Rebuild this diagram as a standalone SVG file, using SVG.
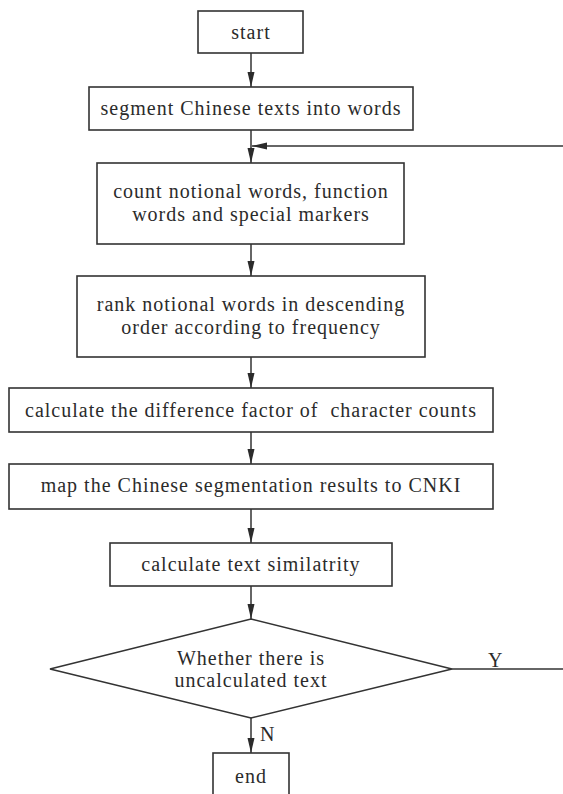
<svg xmlns="http://www.w3.org/2000/svg" width="563" height="794" viewBox="0 0 563 794">
  <style>
    .box { fill: #ffffff; stroke: #333333; stroke-width: 1.6; }
    .line { fill: none; stroke: #333333; stroke-width: 1.5; }
    .lbl { font-family: "Liberation Serif", "Times New Roman", serif; font-size: 20px; letter-spacing: 1px; fill: #2b2b2b; text-anchor: middle; }
    .tag { font-family: "Liberation Serif", "Times New Roman", serif; font-size: 20px; fill: #2b2b2b; }
  </style>
  <defs>
    <marker id="arrow" markerUnits="userSpaceOnUse" markerWidth="15" markerHeight="8" refX="15" refY="3.5" orient="auto">
      <path d="M0,0 L15,3.5 L0,7 Z" fill="#2b2b2b"/>
    </marker>
  </defs>
  <rect width="563" height="794" fill="#ffffff"/>

  <g id="connectors">
    <line class="line" x1="251" y1="53" x2="251" y2="87" marker-end="url(#arrow)"/>
    <line class="line" x1="251" y1="130" x2="251" y2="163" marker-end="url(#arrow)"/>
    <line class="line" x1="563" y1="146" x2="252" y2="146" marker-end="url(#arrow)"/>
    <line class="line" x1="251" y1="244" x2="251" y2="276" marker-end="url(#arrow)"/>
    <line class="line" x1="251" y1="357" x2="251" y2="388" marker-end="url(#arrow)"/>
    <line class="line" x1="251" y1="432" x2="251" y2="464" marker-end="url(#arrow)"/>
    <line class="line" x1="251" y1="509" x2="251" y2="543" marker-end="url(#arrow)"/>
    <line class="line" x1="251" y1="586" x2="251" y2="619" marker-end="url(#arrow)"/>
    <line class="line" x1="251" y1="718" x2="251" y2="753" marker-end="url(#arrow)"/>
    <line class="line" x1="452" y1="669" x2="563" y2="669"/>
    <text class="tag" x="488" y="667">Y</text>
    <text class="tag" x="260" y="741">N</text>
  </g>

  <g id="start">
    <rect class="box" x="198" y="11" width="105" height="42"/>
    <text class="lbl" x="251" y="39">start</text>
  </g>

  <g id="segment">
    <rect class="box" x="89" y="87" width="324" height="43"/>
    <text class="lbl" x="251" y="115">segment Chinese texts into words</text>
  </g>

  <g id="count">
    <rect class="box" x="97" y="163" width="307" height="81"/>
    <text class="lbl" x="251" y="198">count notional words, function</text>
    <text class="lbl" x="251" y="221">words and special markers</text>
  </g>

  <g id="rank">
    <rect class="box" x="77" y="276" width="348" height="81"/>
    <text class="lbl" x="251" y="311">rank notional words in descending</text>
    <text class="lbl" x="251" y="334">order according to frequency</text>
  </g>

  <g id="difference">
    <rect class="box" x="9" y="388" width="484" height="44"/>
    <text class="lbl" x="251" y="417" xml:space="preserve">calculate the difference factor of  character counts</text>
  </g>

  <g id="map">
    <rect class="box" x="9" y="464" width="484" height="45"/>
    <text class="lbl" x="251" y="492">map the Chinese segmentation results to CNKI</text>
  </g>

  <g id="similarity">
    <rect class="box" x="110" y="543" width="282" height="43"/>
    <text class="lbl" x="251" y="571">calculate text similatrity</text>
  </g>

  <g id="decision">
    <polygon class="box" points="251,619 452,669 251,718 50,669"/>
    <text class="lbl" x="251" y="665">Whether there is</text>
    <text class="lbl" x="251" y="687">uncalculated text</text>
  </g>

  <g id="end">
    <rect class="box" x="213" y="753" width="76" height="50"/>
    <text class="lbl" x="251" y="783">end</text>
  </g>
</svg>
